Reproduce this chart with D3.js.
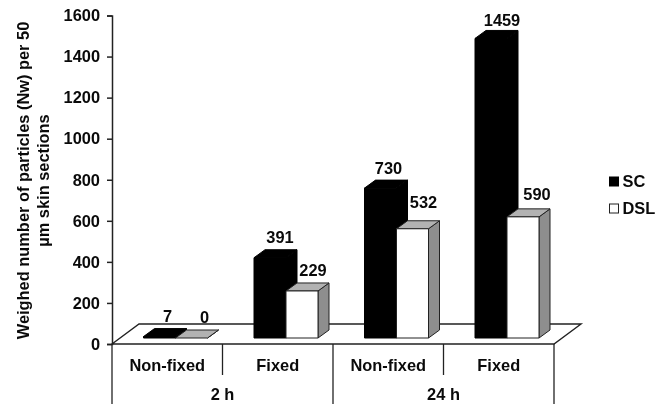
<!DOCTYPE html>
<html><head><meta charset="utf-8">
<script src="https://cdn.jsdelivr.net/npm/d3@7/dist/d3.min.js"></script>
<style>html,body{margin:0;padding:0;background:#fff}svg{display:block;filter:blur(0.35px)}text{font-family:"Liberation Sans",Arial,sans-serif;font-weight:700;fill:#0a0a0a}</style>
</head><body><svg id="c" width="662" height="406"></svg>
<script>
const groups = ["2 h", "24 h"];
const categories = ["Non-fixed", "Fixed", "Non-fixed", "Fixed"];
const categoryKeys = ["2 h|Non-fixed", "2 h|Fixed", "24 h|Non-fixed", "24 h|Fixed"];
const seriesNames = ["SC", "DSL"];
const scValues = [7, 391, 730, 1459];
const dslValues = [0, 229, 532, 590];
const yTicks = [0, 200, 400, 600, 800, 1000, 1200, 1400, 1600];
const yTitleLines = ["Weighed number of particles (Nw) per 50", "µm skin sections"];

const fs = 16.4, ink = "#222";
const plot = {left:112, right:554, top:15.5, bottom:344};
const floor = {dx:27, dy:-20};
const depth = {dx:11, dy:-8};
const basePx = -6;
// hand placement of the value labels, relative to the top of each bar
const nudge = {
  SC:[[-3,0],[-1,0],[-3,0.5],[0,2]],
  DSL:[[2,0],[0,0],[0,-6],[3,-2]]
};

const svg = d3.select("#c");
const y = d3.scaleLinear().domain([0,1600]).range([plot.bottom, plot.top]);
const x0 = d3.scaleBand().domain(categoryKeys).range([plot.left, plot.right]);
const x1 = d3.scaleBand().domain(seriesNames).range([31.5, 95.5]);

const poly = pts => pts.map(p => p.join(",")).join(" ");

// floor
svg.append("polygon")
  .attr("points", poly([[plot.left,plot.bottom],[plot.left+floor.dx,plot.bottom+floor.dy],[plot.right+floor.dx,plot.bottom+floor.dy],[plot.right,plot.bottom]]))
  .attr("fill","#fff").attr("stroke",ink).attr("stroke-width",1.4);

// axis
const axis = d3.axisLeft(y).tickValues(yTicks).tickSize(5).tickPadding(7).tickFormat(d3.format("d"));
const ag = svg.append("g").attr("transform",`translate(${plot.left},0)`).call(axis);
ag.selectAll("path,line").attr("stroke",ink).attr("stroke-width",1.5);
ag.selectAll("text").attr("font-size",fs).style("font-family",'"Liberation Sans",Arial,sans-serif').style("font-weight",700).attr("fill","#0a0a0a");

// bars
const styles = {
  SC:{front:"#000",top:"#000",side:"#000",stroke:"#000"},
  DSL:{front:"#fff",top:"#b2b2b2",side:"#8e8e8e",stroke:ink}
};
const rows = [];
categoryKeys.forEach((k,i)=>{
  rows.push({k,i,s:"SC",v:scValues[i]});
  rows.push({k,i,s:"DSL",v:dslValues[i]});
});
const bw = x1.bandwidth();
const bars = svg.selectAll("g.bar").data(rows).join("g").attr("class","bar");
bars.each(function(d){
  const g = d3.select(this), c = styles[d.s];
  const l = x0(d.k)+x1(d.s), r = l+bw, b = y(0)+basePx, t = y(d.v)+basePx;
  const dx = depth.dx, dy = depth.dy, n = nudge[d.s][d.i];
  g.append("polygon").attr("points",poly([[r,b],[r+dx,b+dy],[r+dx,t+dy],[r,t]])).attr("fill",c.side);
  g.append("polygon").attr("points",poly([[l,t],[l+dx,t+dy],[r+dx,t+dy],[r,t]])).attr("fill",c.top);
  if (b>t) g.append("rect").attr("x",l).attr("y",t).attr("width",bw).attr("height",b-t).attr("fill",c.front);
  g.selectAll("polygon,rect").attr("stroke",c.stroke).attr("stroke-width",1).attr("stroke-linejoin","round");
  g.append("text").attr("x",l+bw/2+dx+n[0]).attr("y",t+dy-12.5+n[1]).attr("dy","0.36em")
    .attr("text-anchor","middle").attr("font-size",fs).text(d.v);
});

// category labels and dividers
const cats = svg.append("g");
categoryKeys.forEach((k,i)=>{
  cats.append("text").attr("x",x0(k)+x0.bandwidth()/2).attr("y",365).attr("dy","0.36em")
    .attr("text-anchor","middle").attr("font-size",fs).text(categories[i]);
});
const divider = (px,end)=>cats.append("line").attr("x1",px).attr("x2",px).attr("y1",plot.bottom).attr("y2",end).attr("stroke",ink).attr("stroke-width",1.3);
divider(x0(categoryKeys[0]),404);
divider(x0(categoryKeys[1]),375);
divider(x0(categoryKeys[2]),404);
divider(x0(categoryKeys[3]),375);
divider(plot.right,404);
groups.forEach((g,i)=>{
  const a = x0(categoryKeys[i*2]), b = x0(categoryKeys[i*2+1])+x0.bandwidth();
  cats.append("text").attr("x",(a+b)/2).attr("y",394.5).attr("dy","0.36em")
    .attr("text-anchor","middle").attr("font-size",fs).text(g);
});

// y title
yTitleLines.forEach((t,i)=>{
  svg.append("text").attr("transform",`translate(${23+i*20.5},180.5) rotate(-90)`).attr("dy","0.36em")
    .attr("text-anchor","middle").attr("font-size",fs).text(t);
});

// legend
seriesNames.forEach((s,i)=>{
  const ly = 181.5+i*27;
  svg.append("rect").attr("x",609.5).attr("y",ly-4.5).attr("width",9).attr("height",9)
    .attr("fill",styles[s].front).attr("stroke",styles[s].stroke).attr("stroke-width",1);
  svg.append("text").attr("x",622.5).attr("y",ly).attr("dy","0.36em").attr("font-size",fs).text(s);
});
</script></body></html>
